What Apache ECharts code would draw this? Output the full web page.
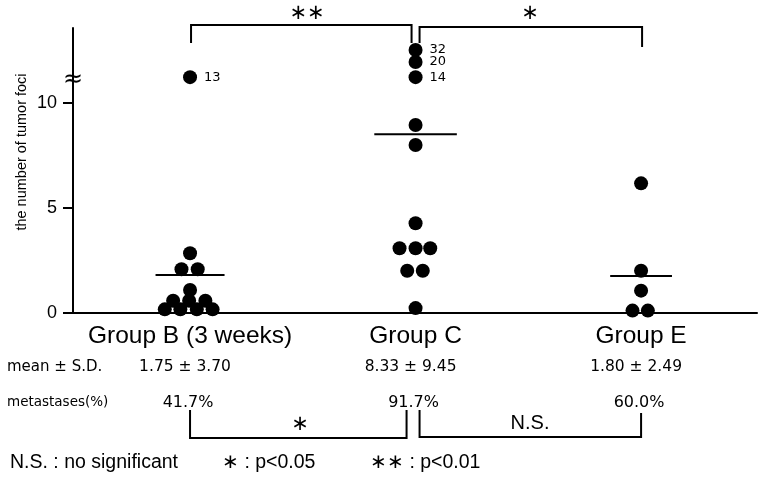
<!DOCTYPE html>
<html><head><meta charset="utf-8">
<script src="https://cdn.jsdelivr.net/npm/echarts@6/dist/echarts.min.js"></script>
<style>html,body{margin:0;padding:0;background:#fff}#c{width:760px;height:479px}</style>
</head><body><div id="c"></div>
<script>
// categories and summary text
const groups = ['Group B (3 weeks)', 'Group C', 'Group E'];
const meanSD = ['1.75 \u00b1 3.70', '8.33 \u00b1 9.45', '1.80 \u00b1 2.49'];
const metastases = ['41.7%', '91.7%', '60.0%'];
const yTicks = [0, 5, 10];
// plotted heights (axis broken above ~10.5; broken values labelled)
const groupB_y = [11.22, 2.83, 2.07, 2.07, 1.08, 0.57, 0.57, 0.57, 0.16, 0.16, 0.16, 0.16];
const groupB_dx = [0, 0, -0.038, 0.034, 0, -0.075, -0.004, 0.068, -0.112, -0.043, 0.030, 0.100];
const groupB_lab = ['13'];
const groupC_y = [12.51, 11.94, 11.22, 8.94, 7.99, 4.26, 3.07, 3.07, 3.07, 2.0, 2.0, 0.22];
const groupC_dx = [0, 0, 0, 0, 0, 0, -0.071, 0, 0.065, -0.037, 0.032, 0];
const groupC_lab = ['32', '20', '14'];
const groupE_y = [6.16, 2.0, 1.05, 0.10, 0.10];
const groupE_dx = [0, 0, 0, -0.038, 0.030];
const groupE_lab = [];
const meanLine = [1.8, 8.5, 1.75];
const meanHalf = [0.153, 0.183, 0.137];

const chart = echarts.init(document.getElementById('c'), null, {renderer: 'canvas'});
function pts(g, ys, dx) { return ys.map((v, i) => [g + dx[i], v]); }
function scat(g, ys, dx, labs) {
  return {
    type: 'scatter', data: pts(g, ys, dx), symbolSize: 14, silent: true,
    itemStyle: {color: '#000', opacity: 1},
    label: {show: true, position: 'right', distance: 7, fontSize: 13, color: '#000',
      fontFamily: 'DejaVu Sans',
      formatter: p => labs[p.dataIndex] || ''}
  };
}
const FF = 'Liberation Sans';
chart.setOption({
  animation: false,
  backgroundColor: '#fff',
  grid: {left: 73, right: 3, top: 28, bottom: 166.3, containLabel: false, outerBoundsMode: 'none'},
  xAxis: {type: 'value', min: -0.519, max: 2.514,
    axisLine: {show: true, onZero: false, lineStyle: {color: '#000', width: 2}},
    axisTick: {show: false}, splitLine: {show: false},
    axisLabel: {customValues: [0, 1, 2], formatter: v => groups[Math.round(v)],
      fontSize: 24.5, color: '#000', margin: 11, fontFamily: FF}},
  yAxis: {type: 'value', min: 0, max: 13.56,
    axisLine: {show: true, onZero: false, lineStyle: {color: '#000', width: 2}},
    axisTick: {show: true, customValues: yTicks, length: 10, lineStyle: {color: '#000', width: 2}},
    axisLabel: {customValues: yTicks, fontSize: 18, color: '#000', margin: 16, fontFamily: FF},
    splitLine: {show: false}},
  series: [
    scat(0, groupB_y, groupB_dx, groupB_lab),
    scat(1, groupC_y, groupC_dx, groupC_lab),
    scat(2, groupE_y, groupE_dx, groupE_lab),
    {type: 'custom', silent: true, data: meanLine.map((m, i) => [i, m, meanHalf[i]]),
      renderItem: (params, api) => {
        const g = api.value(0), m = api.value(1), h = api.value(2);
        const a = api.coord([g - h, m]), b = api.coord([g + h, m]);
        return {type: 'line', shape: {x1: a[0], y1: a[1], x2: b[0], y2: b[1]},
          style: {stroke: '#000', lineWidth: 2}};
      }}
  ]
});

const cx = [0, 1, 2].map(g => chart.convertToPixel({gridIndex: 0}, [g, 0])[0]);
const els = [];
function txt(x, y, s, size, align, font, rot) {
  els.push({type: 'text', x: x, y: y, rotation: rot || 0, silent: true,
    style: {text: s, fontSize: size, fill: '#000', align: align || 'center', verticalAlign: 'middle',
      fontFamily: font || 'DejaVu Sans'}});
}
function poly(p) {
  els.push({type: 'polyline', silent: true, shape: {points: p}, style: {stroke: '#000', lineWidth: 2, fill: null}});
}
// y-axis title
txt(22, 152, 'the number of tumor foci', 14.5, 'center', FF, Math.PI / 2);
// axis break mark
txt(73, 80, '\u2248', 24, 'center', 'DejaVu Sans');
// top brackets
poly([[cx[0] + 1, 43], [cx[0] + 1, 25], [cx[1] - 4, 25], [cx[1] - 4, 43]]);
poly([[cx[1] + 4, 43], [cx[1] + 4, 27], [cx[2] + 1, 27], [cx[2] + 1, 47]]);
txt(307, 14, '\u2217\u2217', 21);
txt(530, 14, '\u2217', 21);
// summary rows
txt(7, 367, 'mean \u00b1 S.D.', 15, 'left');
txt(7, 402, 'metastases(%)', 13.5, 'left');
for (let i = 0; i < 3; i++) {
  txt(cx[i] - 5, 367, meanSD[i], 15.5);
  txt(cx[i] - 2, 403, metastases[i], 16);
}
// bottom brackets
poly([[cx[0], 410], [cx[0], 438], [cx[1] - 9, 438], [cx[1] - 9, 410]]);
poly([[cx[1] + 4, 410], [cx[1] + 4, 437], [cx[2], 437], [cx[2], 413]]);
txt(300, 425, '\u2217', 21);
txt(530, 423, 'N.S.', 20, 'center', FF);
// legend
txt(10, 463, 'N.S. : no significant', 19.5, 'left', FF);
txt(222, 463, '\u2217 : p<0.05', 19.5, 'left', FF);
txt(370, 463, '\u2217\u2217 : p<0.01', 19.5, 'left', FF);
chart.setOption({graphic: {elements: els}});
</script></body></html>
